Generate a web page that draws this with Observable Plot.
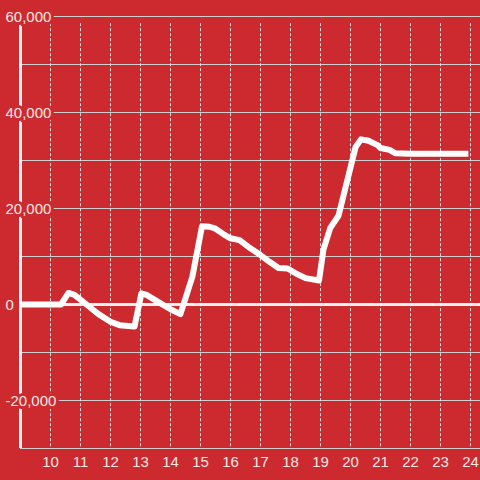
<!DOCTYPE html>
<html>
<head>
<meta charset="utf-8">
<script src="https://cdn.jsdelivr.net/npm/d3@7"></script>
<script src="https://cdn.jsdelivr.net/npm/@observablehq/plot@0.6"></script>
<style>
  html, body { margin: 0; padding: 0; background: #cc2a2f; }
  #chart { width: 480px; height: 480px; }
</style>
</head>
<body>
<div id="chart"></div>
<script>
const xs = [9, 10.35, 10.6, 10.8, 11.2, 11.6, 12.0, 12.3, 12.8, 13.03, 13.2, 13.6, 14.0, 14.33, 14.73, 15.05, 15.3, 15.5, 15.8, 16.0, 16.3, 16.6, 17.0, 17.3, 17.6, 17.9, 18.2, 18.5, 18.95, 19.1, 19.33, 19.6, 20.17, 20.35, 20.6, 20.9, 21.0, 21.3, 21.5, 22.0, 23.0, 23.93];
const ys = [0, 0, 2400, 2000, 0, -2000, -3600, -4300, -4600, 2300, 2000, 500, -1000, -2000, 5800, 16300, 16200, 15800, 14500, 13800, 13400, 12000, 10300, 8900, 7600, 7500, 6400, 5500, 5000, 11500, 16000, 18500, 32800, 34400, 34100, 33200, 32600, 32200, 31500, 31400, 31400, 31400];
const yLabelTicks = [60000, 40000, 20000, 0, -20000];
const yGrid = [-30000, -20000, -10000, 0, 10000, 20000, 30000, 40000, 50000, 60000];
const xTicks = [10, 11, 12, 13, 14, 15, 16, 17, 18, 19, 20, 21, 22, 23, 24];

const data = xs.map((x, i) => ({x, y: ys[i]}));
const bg = "#cc2a2f";
const fmt = d => (d < 0 ? "-" : "") + d3.format(",")(Math.abs(d));

const chart = Plot.plot({
  width: 480,
  height: 480,
  marginTop: 16,
  marginBottom: 32,
  marginLeft: 20,
  marginRight: 0,
  x: {domain: [9, 9 + 460 / 30], axis: null},
  y: {domain: [-30000, 60000], axis: null},
  style: {background: bg, fontFamily: "'Liberation Sans', Arial, sans-serif", fontSize: "15px"},
  marks: [
    Plot.ruleY(yGrid, {stroke: "#cfcfcf", strokeWidth: 1}),
    Plot.ruleX(xTicks, {y1: 58500, y2: -30000, stroke: "#dddddd", strokeWidth: 1, strokeDasharray: "3,2"}),
    Plot.ruleY([0], {stroke: "#f2f2f2", strokeWidth: 3}),
    Plot.ruleX([9], {y1: -30000, y2: 60000, stroke: "#f2f2f2", strokeWidth: 3}),
    Plot.line(data, {x: "x", y: "y", stroke: "#ffffff", strokeWidth: 6, strokeLinejoin: "round", strokeLinecap: "butt"}),
    Plot.text(yLabelTicks, {x: () => 9, y: d => d, text: fmt, textAnchor: "start", dx: -15, dy: 1,
      fill: "#f3e6e6", stroke: bg, strokeWidth: 6, fontSize: 15}),
    Plot.text(xTicks, {x: d => d, y: () => -30000, text: d => String(d), dy: 14, textAnchor: "middle",
      fill: "#f3e6e6", fontSize: 15})
  ]
});
document.getElementById("chart").appendChild(chart);
</script>
</body>
</html>
